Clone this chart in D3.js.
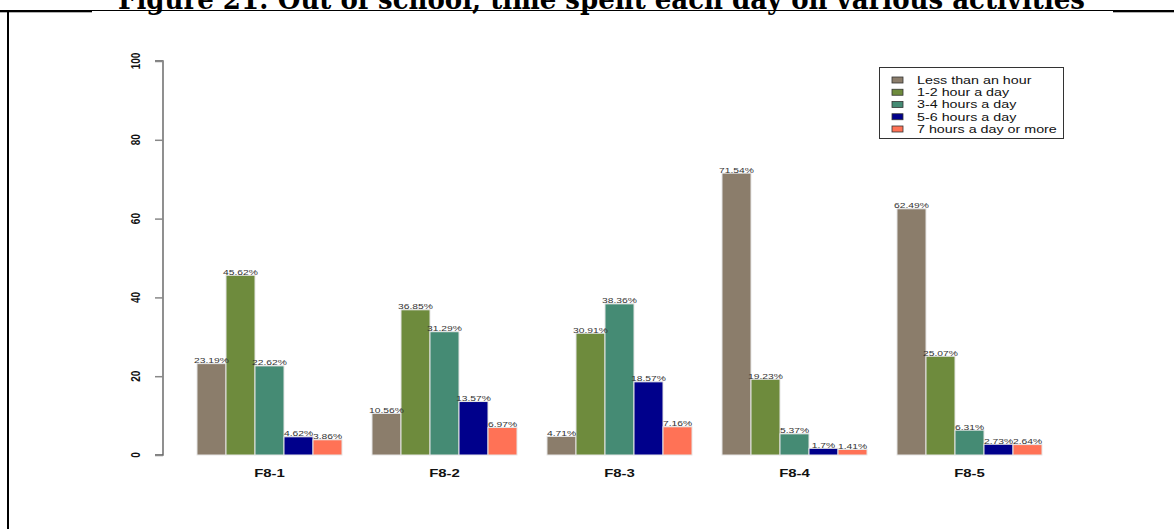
<!DOCTYPE html>
<html>
<head>
<meta charset="utf-8">
<script src="https://cdn.jsdelivr.net/npm/d3@7"></script>
<style>
  body { margin: 0; background: #fff; }
  svg { display: block; }
</style>
</head>
<body>
<svg width="1174" height="529"></svg>
<script>
var width = 1174;
var height = 529;

// data
var groups = ["F8-1", "F8-2", "F8-3", "F8-4", "F8-5"];
var series = ["Less than an hour", "1-2 hour a day", "3-4 hours a day", "5-6 hours a day", "7 hours a day or more"];
var lessHour = [23.19, 10.56, 4.71, 71.54, 62.49];
var oneTwo = [45.62, 36.85, 30.91, 19.23, 25.07];
var threeFour = [22.62, 31.29, 38.36, 5.37, 6.31];
var fiveSix = [4.62, 13.57, 18.57, 1.7, 2.73];
var sevenMore = [3.86, 6.97, 7.16, 1.41, 2.64];
var yTicks = [0, 20, 40, 60, 80, 100];

var colors = ["#8B7D6B", "#6E8B3D", "#458B74", "#00008B", "#FF7256"];
var allValues = [lessHour, oneTwo, threeFour, fiveSix, sevenMore];

// the picture is stretched sideways, so text is too
var sx = 1.3;

var svg = d3.select("svg");

// frame
svg.append("rect").attr("x", 0).attr("y", 10).attr("width", width).attr("height", 1).attr("fill", "#000");
svg.append("rect").attr("x", 0).attr("y", 10).attr("width", 92).attr("height", 2.3).attr("fill", "#000");
svg.append("rect").attr("x", 1113).attr("y", 10).attr("width", 61).attr("height", 2.3).attr("fill", "#000");
svg.append("rect").attr("x", 7).attr("y", 10).attr("width", 2).attr("height", height - 10).attr("fill", "#000");

// title, mostly cut off at the top
svg.append("text")
    .attr("x", 118)
    .attr("y", 9)
    .attr("textLength", 967)
    .attr("lengthAdjust", "spacingAndGlyphs")
    .attr("font-family", "DejaVu Serif")
    .attr("font-weight", "bold")
    .attr("font-size", 28)
    .attr("fill", "#000")
    .text("Figure 21: Out of school, time spent each day on various activities");

var x0 = d3.scaleBand()
    .domain(groups)
    .range([182, 1057])
    .paddingInner(30 / 175)
    .paddingOuter(15 / 175);

var x1 = d3.scaleBand()
    .domain(series)
    .range([0, x0.bandwidth()]);

var y = d3.scaleLinear()
    .domain([0, 100])
    .range([455, 61]);

// y axis
var yAxis = d3.axisLeft(y).tickValues(yTicks).tickSize(8).tickFormat("");
var gy = svg.append("g").attr("transform", "translate(163,0)").call(yAxis);
gy.select(".domain").attr("stroke", "#555").attr("stroke-width", 1.3).attr("d", "M-8," + y(100) + "H0V" + y(0) + "H-8");
gy.selectAll(".tick line").attr("stroke", "#888").attr("stroke-width", 1.5);

svg.selectAll(".ylab")
    .data(yTicks)
    .enter()
    .append("text")
    .attr("class", "ylab")
    .attr("transform", function(d) { return "translate(140," + y(d) + ") scale(" + sx + ",1) rotate(-90)"; })
    .attr("text-anchor", "middle")
    .attr("font-family", "Liberation Sans, Arial, sans-serif")
    .attr("font-weight", "bold")
    .attr("font-size", 10)
    .attr("fill", "#111")
    .text(function(d) { return d; });

// bars
var rows = [];
groups.forEach(function(g, gi) {
    series.forEach(function(s, si) {
        rows.push({ group: g, series: s, value: allValues[si][gi], color: colors[si] });
    });
});

svg.selectAll(".bar")
    .data(rows)
    .enter()
    .append("rect")
    .attr("class", "bar")
    .attr("x", function(d) { return x0(d.group) + x1(d.series); })
    .attr("y", function(d) { return y(d.value); })
    .attr("width", x1.bandwidth())
    .attr("height", function(d) { return y(0) - y(d.value); })
    .attr("fill", function(d) { return d.color; })
    .attr("stroke", "#e6e6e6")
    .attr("stroke-width", 1);

svg.selectAll(".vlab")
    .data(rows)
    .enter()
    .append("text")
    .attr("class", "vlab")
    .attr("transform", function(d) {
        return "translate(" + (x0(d.group) + x1(d.series) + x1.bandwidth() / 2) + "," + (y(d.value) - 0.5) + ") scale(" + sx + ",1)";
    })
    .attr("text-anchor", "middle")
    .attr("font-family", "Liberation Sans, Arial, sans-serif")
    .attr("font-size", 7.9)
    .attr("fill", "#333")
    .text(function(d) { return d.value + "%"; });

// group labels
svg.selectAll(".xlab")
    .data(groups)
    .enter()
    .append("text")
    .attr("class", "xlab")
    .attr("transform", function(d) { return "translate(" + (x0(d) + x0.bandwidth() / 2) + ",477) scale(" + sx + ",1)"; })
    .attr("text-anchor", "middle")
    .attr("font-family", "Liberation Sans, Arial, sans-serif")
    .attr("font-weight", "bold")
    .attr("font-size", 11.5)
    .attr("fill", "#111")
    .text(function(d) { return d; });

// legend
var legend = svg.append("g");
legend.append("rect")
    .attr("x", 879.5).attr("y", 67.5)
    .attr("width", 184).attr("height", 71)
    .attr("fill", "#fff").attr("stroke", "#333").attr("stroke-width", 1);

var items = legend.selectAll(".item")
    .data(series)
    .enter()
    .append("g")
    .attr("transform", function(d, i) { return "translate(0," + (80 + i * 12.25) + ")"; });

items.append("rect")
    .attr("x", 892).attr("y", -3)
    .attr("width", 11).attr("height", 6)
    .attr("fill", function(d, i) { return colors[i]; })
    .attr("stroke", "#333").attr("stroke-width", 0.8);

items.append("text")
    .attr("transform", "translate(917,3.8) scale(" + sx + ",1)")
    .attr("font-family", "Liberation Sans, Arial, sans-serif")
    .attr("font-size", 11)
    .attr("fill", "#111")
    .text(function(d) { return d; });
</script>
</body>
</html>
